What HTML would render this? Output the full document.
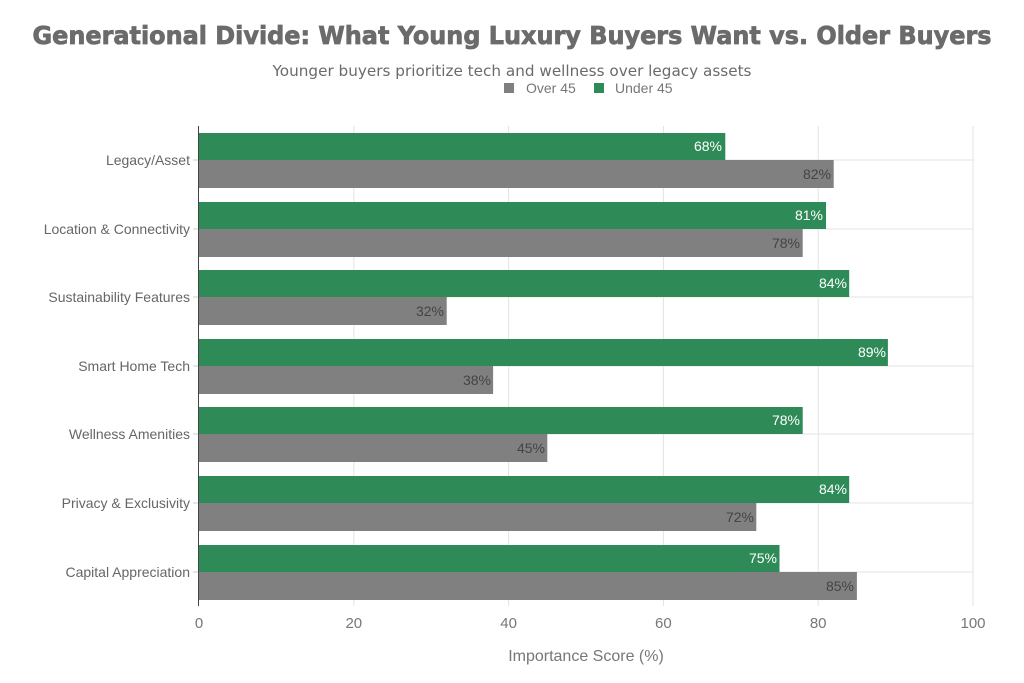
<!DOCTYPE html>
<html><head><meta charset="utf-8"><style>html,body{margin:0;padding:0;background:#fff}svg{display:block}</style></head>
<body>
<svg width="1024" height="683" xmlns="http://www.w3.org/2000/svg" font-family="Liberation Sans, DejaVu Sans, sans-serif">
<rect width="1024" height="683" fill="#fff"/>
<text x="512" y="44" text-anchor="middle" font-family="DejaVu Sans, sans-serif" font-weight="bold" font-size="25" fill="#6b6b6b" stroke="#6b6b6b" stroke-width="0.8" textLength="959" lengthAdjust="spacingAndGlyphs">Generational Divide: What Young Luxury Buyers Want vs. Older Buyers</text>
<text x="512" y="76" text-anchor="middle" font-family="DejaVu Sans, sans-serif" font-size="15" fill="#6b6b6b" textLength="479" lengthAdjust="spacingAndGlyphs">Younger buyers prioritize tech and wellness over legacy assets</text>
<rect x="504" y="83" width="10" height="10" fill="#808080"/>
<text x="526" y="93" font-size="14" fill="#777">Over 45</text>
<rect x="594" y="83" width="10" height="10" fill="#2e8b57"/>
<text x="615" y="93" font-size="14" fill="#777">Under 45</text>
<g stroke="#e3e3e3" stroke-width="1">
<line x1="353.8" y1="126" x2="353.8" y2="606"/><line x1="508.6" y1="126" x2="508.6" y2="606"/><line x1="663.4" y1="126" x2="663.4" y2="606"/><line x1="818.2" y1="126" x2="818.2" y2="606"/><line x1="973" y1="126" x2="973" y2="606"/>
<line x1="199" y1="160" x2="973" y2="160"/><line x1="199" y1="229" x2="973" y2="229"/><line x1="199" y1="297" x2="973" y2="297"/><line x1="199" y1="366" x2="973" y2="366"/><line x1="199" y1="434" x2="973" y2="434"/><line x1="199" y1="503" x2="973" y2="503"/><line x1="199" y1="572" x2="973" y2="572"/>
</g>
<g font-size="14">
<rect x="199" y="133" width="526.3" height="27" fill="#2e8b57"/><text x="722" y="151" text-anchor="end" fill="#fff">68%</text>
<rect x="199" y="160" width="634.7" height="28" fill="#808080"/><text x="831" y="179" text-anchor="end" fill="#444">82%</text>
<rect x="199" y="202" width="627" height="27" fill="#2e8b57"/><text x="823" y="220" text-anchor="end" fill="#fff">81%</text>
<rect x="199" y="229" width="603.7" height="28" fill="#808080"/><text x="800" y="248" text-anchor="end" fill="#444">78%</text>
<rect x="199" y="270" width="650.2" height="27" fill="#2e8b57"/><text x="847" y="288" text-anchor="end" fill="#fff">84%</text>
<rect x="199" y="297" width="247.7" height="28" fill="#808080"/><text x="444" y="316" text-anchor="end" fill="#444">32%</text>
<rect x="199" y="339" width="688.9" height="27" fill="#2e8b57"/><text x="886" y="357" text-anchor="end" fill="#fff">89%</text>
<rect x="199" y="366" width="294.1" height="28" fill="#808080"/><text x="491" y="385" text-anchor="end" fill="#444">38%</text>
<rect x="199" y="407" width="603.7" height="27" fill="#2e8b57"/><text x="800" y="425" text-anchor="end" fill="#fff">78%</text>
<rect x="199" y="434" width="348.3" height="28" fill="#808080"/><text x="545" y="453" text-anchor="end" fill="#444">45%</text>
<rect x="199" y="476" width="650.2" height="27" fill="#2e8b57"/><text x="847" y="494" text-anchor="end" fill="#fff">84%</text>
<rect x="199" y="503" width="557.3" height="28" fill="#808080"/><text x="754" y="522" text-anchor="end" fill="#444">72%</text>
<rect x="199" y="545" width="580.5" height="27" fill="#2e8b57"/><text x="777" y="563" text-anchor="end" fill="#fff">75%</text>
<rect x="199" y="572" width="657.9" height="28" fill="#808080"/><text x="854" y="591" text-anchor="end" fill="#444">85%</text>
</g>
<line x1="198.5" y1="126" x2="198.5" y2="606" stroke="#444" stroke-width="1"/>
<g stroke="#ccc"><line x1="193" y1="160" x2="198" y2="160"/><line x1="193" y1="229" x2="198" y2="229"/><line x1="193" y1="297" x2="198" y2="297"/><line x1="193" y1="366" x2="198" y2="366"/><line x1="193" y1="434" x2="198" y2="434"/><line x1="193" y1="503" x2="198" y2="503"/><line x1="193" y1="572" x2="198" y2="572"/></g>
<g font-size="14" fill="#666" text-anchor="end">
<text x="190" y="165">Legacy/Asset</text><text x="190" y="234">Location &amp; Connectivity</text><text x="190" y="302">Sustainability Features</text><text x="190" y="371">Smart Home Tech</text><text x="190" y="439">Wellness Amenities</text><text x="190" y="508">Privacy &amp; Exclusivity</text><text x="190" y="577">Capital Appreciation</text>
</g>
<g font-size="15" fill="#777" text-anchor="middle">
<text x="199" y="628">0</text><text x="353.8" y="628">20</text><text x="508.6" y="628">40</text><text x="663.4" y="628">60</text><text x="818.2" y="628">80</text><text x="973" y="628">100</text>
</g>
<text x="586" y="661" text-anchor="middle" font-size="16" fill="#777">Importance Score (%)</text>
</svg>
</body></html>
